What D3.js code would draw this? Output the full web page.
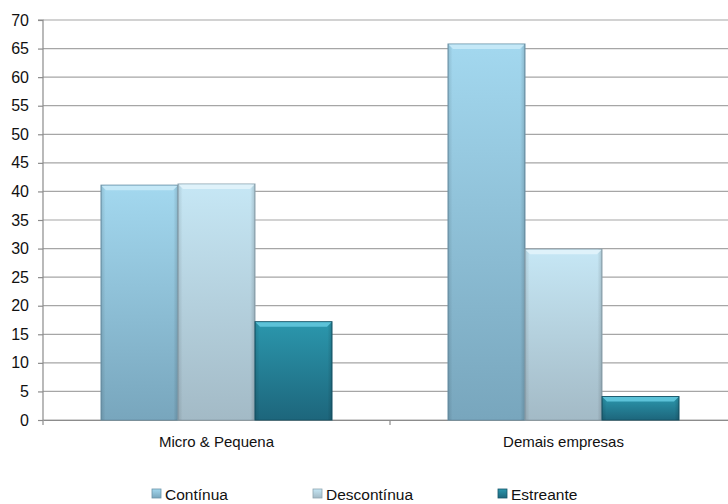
<!DOCTYPE html>
<html><head><meta charset="utf-8">
<script src="https://cdn.jsdelivr.net/npm/d3@7"></script>
<style>body{margin:0;background:#fff;}svg{display:block;font-family:"Liberation Sans",Arial,sans-serif;}</style>
</head><body><svg id="c" width="728" height="504"></svg>
<script>
const categories = ["Micro & Pequena", "Demais empresas"];
const seriesNames = ["Contínua", "Descontínua", "Estreante"];
const continua = [41.1, 65.8];
const descontinua = [41.3, 29.9];
const estreante = [17.2, 4.1];
const yTicks = [0,5,10,15,20,25,30,35,40,45,50,55,60,65,70];

const values = [continua, descontinua, estreante];
const palette = [
  {top:"#a3d8ef", bot:"#78a6bd", bevel:"#c4e8f7", edge:"#6b93a8"},
  {top:"#c6e7f5", bot:"#a3bac6", bevel:"#dff2fa", edge:"#8ea5b1"},
  {top:"#2b97ad", bot:"#1d667c", bevel:"#5cc2d8", edge:"#17566a"}
];

const svg = d3.select("#c");
const m = {l:43, t:20, b:420, r:737};
const y = d3.scaleLinear().domain([0,70]).range([m.b, m.t]);
const x0 = d3.scaleBand().domain(categories).range([m.l, m.r]).paddingInner(0).paddingOuter(0);
const x1 = d3.scaleBand().domain(seriesNames).range([0, x0.bandwidth()]).paddingInner(0).paddingOuter(0.753);

const defs = svg.append("defs");
palette.forEach((p,i)=>{
  const g = defs.append("linearGradient").attr("id","g"+i).attr("x1",0).attr("y1",0).attr("x2",0).attr("y2",1);
  g.append("stop").attr("offset","0%").attr("stop-color",p.top);
  g.append("stop").attr("offset","100%").attr("stop-color",p.bot);
  const h = defs.append("linearGradient").attr("id","h"+i).attr("x1",0).attr("y1",0).attr("x2",1).attr("y2",0);
  h.append("stop").attr("offset","0%").attr("stop-color","#000").attr("stop-opacity",0.12);
  h.append("stop").attr("offset","6%").attr("stop-color","#000").attr("stop-opacity",0);
  h.append("stop").attr("offset","94%").attr("stop-color","#000").attr("stop-opacity",0);
  h.append("stop").attr("offset","100%").attr("stop-color","#000").attr("stop-opacity",0.15);
});

// gridlines
svg.append("g").selectAll("line").data(yTicks).join("line")
  .attr("x1", m.l).attr("x2", m.r).attr("y1", d=>y(d)).attr("y2", d=>y(d))
  .attr("stroke","#a6a6a6").attr("stroke-width",1.2);

// y axis
const yAxis = d3.axisLeft(y).tickValues(yTicks).tickSize(5).tickPadding(9);
const ga = svg.append("g").attr("transform",`translate(${m.l},0)`).call(yAxis);
ga.select(".domain").attr("stroke","#8c8c8c").attr("stroke-width",1.2).attr("d",`M-5,${m.t}H0V${m.b}`);
ga.selectAll(".tick line").attr("stroke","#8c8c8c").attr("stroke-width",1.2);
ga.selectAll(".tick text").attr("font-size",16).attr("fill","#111").attr("font-family","Liberation Sans, Arial, sans-serif");

// x axis
const xAxis = d3.axisBottom(x0).tickSize(0).tickPadding(16);
const gx = svg.append("g").attr("transform",`translate(0,${m.b})`).call(xAxis);
gx.select(".domain").attr("stroke","#8c8c8c").attr("stroke-width",1.2);
gx.selectAll(".tick text").attr("font-size",15).attr("fill","#111").attr("font-family","Liberation Sans, Arial, sans-serif");
svg.append("g").selectAll("line").data([m.l, m.l + x0.bandwidth(), m.r]).join("line")
  .attr("x1",d=>d).attr("x2",d=>d).attr("y1",m.b).attr("y2",m.b+5)
  .attr("stroke","#8c8c8c").attr("stroke-width",1.2);

// bars
const bars = [];
categories.forEach((c,ci)=>seriesNames.forEach((s,si)=>bars.push({c,s,si,v:values[si][ci]})));
const bg = svg.append("g");
const bw = x1.bandwidth();
bars.forEach(d=>{
  const bx = x0(d.c)+x1(d.s), by = y(d.v), bh = y(0)-y(d.v), p = palette[d.si];
  bg.append("rect").attr("x",bx).attr("y",by).attr("width",bw).attr("height",bh)
    .attr("fill",`url(#g${d.si})`).attr("stroke",p.edge).attr("stroke-width",1);
  bg.append("rect").attr("x",bx).attr("y",by).attr("width",bw).attr("height",bh)
    .attr("fill",`url(#h${d.si})`);
  const bv = 5;
  bg.append("path").attr("d",`M${bx+0.5},${by+0.5}H${bx+bw-0.5}L${bx+bw-bv},${by+bv}H${bx+bv}Z`)
    .attr("fill",p.bevel);
});

// legend
const legX = [152, 313, 498];
const lg = svg.append("g");
seriesNames.forEach((s,i)=>{
  const p = palette[i];
  lg.append("rect").attr("x",legX[i]).attr("y",489).attr("width",9).attr("height",9)
    .attr("fill",`url(#g${i})`).attr("stroke",p.edge).attr("stroke-width",0.8);
  lg.append("text").attr("x",legX[i]+13).attr("y",499.5).attr("font-size",15.5).attr("fill","#111").text(s);
});
</script></body></html>
